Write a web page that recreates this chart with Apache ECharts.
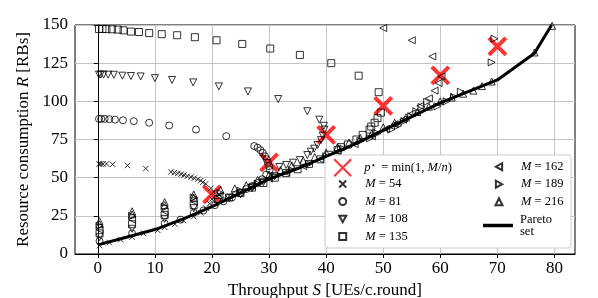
<!DOCTYPE html>
<html><head><meta charset="utf-8">
<script src="https://cdn.jsdelivr.net/npm/echarts@6/dist/echarts.min.js"></script>
<style>html,body{margin:0;padding:0;background:#fff}#c{width:598px;height:298px}</style>
</head><body><div id="c"></div>
<script>
const xTicks = [0,10,20,30,40,50,60,70,80];
const yTicks = [0,25,50,75,100,125,150];
const pStar = [[20,39],[30,60],[40,78],[50,97],[60,117],[70,136]];
const pareto = [[0,6],[5,11],[10,16],[15,23],[20,31],[25,40],[30,49],[35,56],[40,64],[45,72],[50,81],[55,90],[60,99],[65,106.5],[70,114],[76.5,131.5],[79.5,150]];
const m54 = [[0.3,5.5],[2,7.5],[4,9.5],[6,11],[8,13.5],[10.5,15.5],[11.7,17.5],[13.5,19.5],[15,22],[16.8,24.5],[18,27],[19,30],[19.6,33],[20,36],[21.2,39],[20.3,40.5],[19.8,43],[18.9,46],[18.4,47],[18,48],[17.5,49],[16.9,49.7],[16.3,50.4],[15.7,51],[15.1,51.7],[14.6,52.3],[14,52.8],[13.4,53.3],[12.8,53.7],[8.4,56],[5.2,58],[2.6,58.7],[1.5,59],[0.9,59],[0.5,59],[0.2,59]];
const m81 = [[0.3,8.5],[6,13.5],[11.7,20],[14.5,22.5],[16.8,27],[18.5,28.5],[20.5,32],[22,34.5],[23.5,37],[25,40],[26,42.5],[27,44.5],[28,46.5],[28.8,49],[29.5,52],[30.1,55],[30,57.6],[29.8,59.8],[29.6,62],[29.3,64],[28.9,66.3],[28.5,68],[28,69.6],[27.4,70.7],[22.5,77.2],[17.2,81.5],[12.5,84.2],[9,86],[6.3,87],[4.4,87.6],[3,88],[2,88.3],[1.2,88.5],[0.6,88.5],[0.2,88.5]];
const m108 = [[0.3,11],[6,16.5],[11.7,23],[16.8,30],[21,34],[23,36.5],[25,39],[27,43],[29,47],[31,51],[31.8,57],[33,58.3],[34.2,59.8],[35.4,61.5],[36.7,64.8],[37.3,67],[37.9,69],[38.5,71.4],[39.1,74.6],[39.4,77.5],[39.7,81.5],[39.6,84],[38.8,88],[36.7,93.5],[31.6,101.5],[26.3,106.5],[21.2,109.8],[16.7,112.4],[13,114],[10,115.2],[7.5,116.3],[5.8,116.6],[4.3,116.8],[2.8,117.4],[1.8,117.5],[1,117.5],[0.5,117.5],[0.2,117.5]];
const m135 = [[0.3,13.5],[6,19.5],[11.7,25.5],[16.8,32],[21,36],[23,37],[25,40],[27,43.5],[29,46.5],[31,50],[33,53],[35,55.5],[37,59],[39,62],[40.5,65],[42,68],[42.6,70],[43.8,71.7],[45.3,75],[46.4,78],[47.6,81.5],[47.9,83.5],[48.5,86],[49,89],[49.6,92.6],[49.2,106],[45.7,116.8],[40.9,125],[35.4,130.4],[30.2,134.6],[25.3,137.6],[20.8,140],[17,142],[13.9,143.3],[11.2,144],[9,144.7],[7.2,145.4],[5.8,145.7],[4.5,146.5],[3.5,147],[2.5,147.2],[1.5,147.3],[0.8,147.4],[0.2,147.4]];
const m162 = [[0.3,16],[6,22.5],[11.7,28],[16.8,34.5],[21.3,38],[24,40],[27,45],[30,49.5],[33,53.5],[36,57.5],[39,62],[42,67],[45,72],[48,77],[50.5,82],[52,85],[53.5,88],[55,92],[56.5,97],[58,102],[59,107],[59.7,112],[60.2,116.3],[58.6,129.4],[55,140],[50,148]];
const m189 = [[0.3,18.5],[6,25],[11.7,31],[16.8,37],[21.5,40],[25,41.5],[28,46],[31,51],[34,55],[37,59],[40,64],[43,69],[46,74],[47.7,75.8],[49,79],[51.4,81.5],[52.6,84],[53.7,87],[54.9,90.2],[55.8,93.5],[56.7,96.3],[57.7,99.7],[59.5,96.7],[61.1,100],[62.4,103],[63.6,106.3],[69,125.5],[69.5,141]];
const m216 = [[0.3,21.5],[0.3,19.5],[6,28],[6,26],[11.7,34],[11.7,32],[16.8,39],[16.8,37],[21.5,42],[24,43],[26,45],[28,48.5],[30,52],[32,55],[34,58],[36,61],[38,63.5],[40,66.5],[42,70],[44,73],[46,76],[48,79],[50,83],[52,86],[54,89.5],[56,93],[58,96.5],[60,100],[62,102.5],[64,105],[65.8,107],[67.3,110],[69,113],[76.5,132],[79.6,149.5]];

const FONT = 'Liberation Serif';
const chart = echarts.init(document.getElementById('c'));
const hollow = {color:'rgba(0,0,0,0)', borderColor:'#000', borderWidth:1};
const XPATH = 'path://M0,0L10,10M10,0L0,10';
const TRI_DOWN = 'path://M0,0L10,0L5,9Z';
const TRI_LEFT = 'path://M9,0L9,10L0,5Z';
const TRI_RIGHT = 'path://M0,0L0,10L9,5Z';
function sc(name, data, symbol, size, rot){
  return {name, type:'scatter', data, symbol, symbolSize:size, symbolRotate:rot||0,
    itemStyle:hollow, animation:false, silent:true};
}
function mkRich(lh){
  return {
    i:{fontFamily:FONT, fontStyle:'italic', fontSize:12.5, color:'#000', lineHeight:lh},
    t:{fontFamily:FONT, fontSize:12.5, color:'#000', lineHeight:lh},
    s:{fontFamily:'DejaVu Sans', fontSize:9, color:'#000', lineHeight:lh, verticalAlign:'top', padding:[0,2,5,0]},
    g1:{width:8, lineHeight:lh}, g2:{width:14, lineHeight:lh}, g3:{width:13.5, lineHeight:lh}, g4:{width:2, lineHeight:lh}
  };
}
function fmt(name){
  if (name === 'pstar') return '{g1|}{i|p}{s|⋆}{t| = min(1, }{i|M}{t|/}{i|n}{t|)}';
  if (name === 'Pareto set') return '{g4|}{t|Pareto}\n{g4|}{t|set}';
  const v = +name.slice(4);
  return (v >= 162 ? '{g3|}' : '{g2|}') + '{i|M}{t| = ' + v + '}';
}
const lt14 = {fontFamily:FONT, fontSize:12.5, color:'#000', lineHeight:14, rich:mkRich(14)};
const lt12 = {fontFamily:FONT, fontSize:12.5, color:'#000', lineHeight:12, rich:mkRich(12)};
const option = {
  backgroundColor:'#fff',
  animation:false,
  grid:{left:75, right:23, top:25, bottom:44, outerBoundsMode:'none', containLabel:false, show:true, borderColor:'#000', borderWidth:1, backgroundColor:'transparent'},
  xAxis:{type:'value', min:-4, max:83.6,
    name:'{n|Throughput }{i|S}{n| [UEs/c.round]}', nameLocation:'middle', nameGap:26,
    nameTextStyle:{rich:{n:{fontFamily:FONT, fontSize:17, color:'#000'}, i:{fontFamily:FONT, fontSize:17, fontStyle:'italic', color:'#000'}}},
    axisLine:{onZero:false, lineStyle:{color:'#000', width:1}},
    axisTick:{show:true, length:4, lineStyle:{color:'#000'}, customValues:xTicks},
    axisLabel:{customValues:xTicks, fontFamily:FONT, fontSize:17, color:'#000', margin:6},
    splitLine:{show:true, lineStyle:{color:'#c4c4c4', width:1}}
  },
  yAxis:{type:'value', min:0, max:150, interval:25,
    name:'{n|Resource consumption }{i|R}{n| [RBs]}', nameLocation:'middle', nameGap:39, nameRotate:90,
    nameTextStyle:{rich:{n:{fontFamily:FONT, fontSize:17, color:'#000'}, i:{fontFamily:FONT, fontSize:17, fontStyle:'italic', color:'#000'}}},
    axisLine:{lineStyle:{color:'#000', width:1}},
    axisTick:{show:true, length:4, lineStyle:{color:'#000'}},
    axisLabel:{fontFamily:FONT, fontSize:17, color:'#000', margin:7},
    splitLine:{show:true, lineStyle:{color:'#c4c4c4', width:1}}
  },
  graphic:[{type:'rect', z:3, shape:{x:325, y:155, width:246, height:93, r:3},
    style:{fill:'#fff', stroke:'#cccccc', lineWidth:1}}],
  legend:[
    {data:['pstar'], orient:'vertical', left:333.2, top:158.2, itemWidth:17, itemHeight:17, formatter:fmt, textStyle:lt14, z:5, padding:0},
    {data:['M = 54','M = 81',{name:'M = 108', icon:TRI_DOWN},'M = 135'], orient:'vertical', left:338.2, top:177, itemWidth:7, itemHeight:7, itemGap:3.5, formatter:fmt, textStyle:lt14, z:5, padding:0},
    {data:[{name:'M = 162', icon:TRI_LEFT},{name:'M = 189', icon:TRI_RIGHT},'M = 216'], orient:'vertical', left:494.5, top:159.7, itemWidth:7, itemHeight:7, itemGap:3.5, formatter:fmt, textStyle:lt14, z:5, padding:0},
    {data:[{name:'Pareto set', icon:'rect'}], orient:'vertical', left:483, top:213, itemWidth:30, itemHeight:3.5, formatter:fmt, textStyle:lt12, z:5, padding:0}
  ],
  series:[
    {name:'pstar', type:'scatter', data:pStar, symbol:XPATH, symbolSize:17,
      itemStyle:{color:'rgba(0,0,0,0)', borderColor:'#ff0000', borderWidth:4}, silent:true},
    sc('M = 54', m54, XPATH, 5.5, 0),
    sc('M = 81', m81, 'circle', 7, 0),
    sc('M = 108', m108, 'triangle', 7, 180),
    sc('M = 135', m135, 'rect', 7, 0),
    sc('M = 162', m162, 'triangle', 7, 90),
    sc('M = 189', m189, 'triangle', 7, -90),
    sc('M = 216', m216, 'triangle', 7, 0),
    {name:'Pareto set', type:'line', data:pareto, symbol:'none', showSymbol:false,
      lineStyle:{color:'#000', width:3}, itemStyle:{color:'#000'}, silent:true, z:3}
  ]
};
chart.setOption(option);
</script></body></html>
